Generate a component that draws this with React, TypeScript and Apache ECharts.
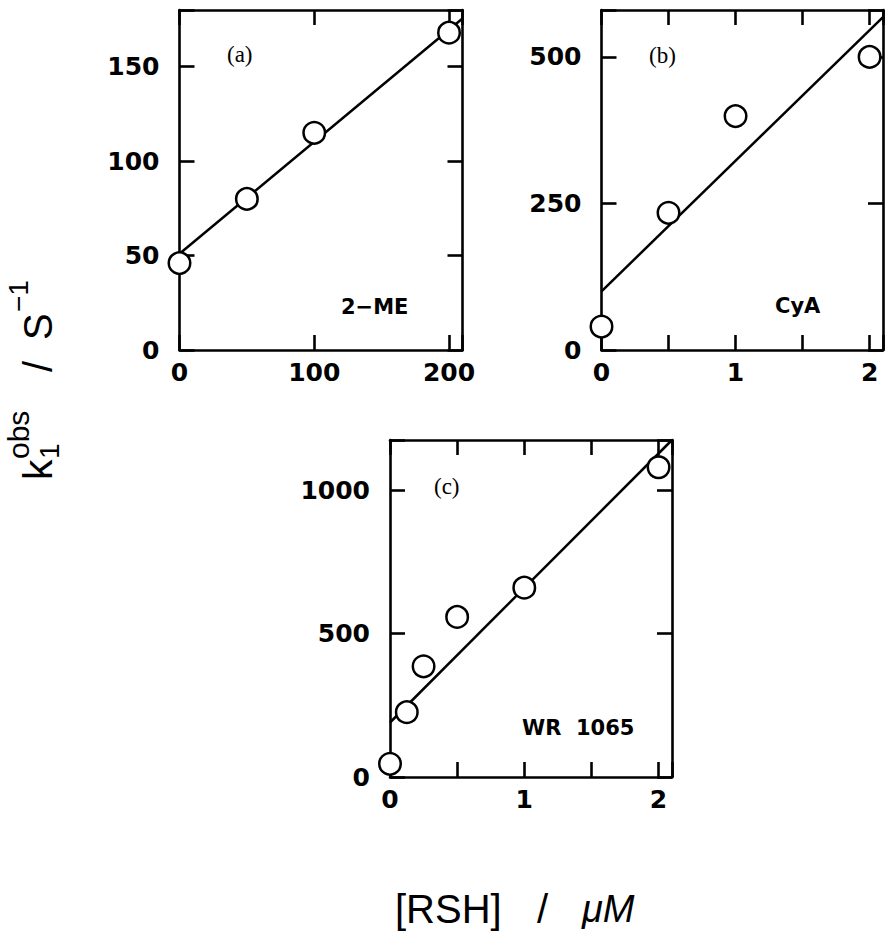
import React, { useEffect, useRef } from "react";
import * as echarts from "echarts";

// ---- data ----
const panelNames = ["(a)", "(b)", "(c)"];
const thiolNames = ["2−ME", "CyA", "WR  1065"];

const aX = [0, 50, 100, 200];
const aY = [46, 80, 115, 168];
const aFitX = [0, 210];
const aFitY = [51, 175.5];

const bX = [0, 0.5, 1, 2];
const bY = [40, 234, 399, 500];
const bFitX = [0, 2.1];
const bFitY = [100, 568];

const cX = [0, 0.125, 0.25, 0.5, 1, 2];
const cY = [46, 226, 386, 558, 660, 1080];
const cFitX = [0, 2.1];
const cFitY = [190, 1175];

const xMax = [210, 2.1, 2.1];
const xInterval = [100, 0.5, 0.5];
const xLabelStep = [100, 1, 1];
const yMax = [180, 580, 1175];
const yInterval = [50, 250, 500];

const pts = [
  { x: aX, y: aY, fx: aFitX, fy: aFitY },
  { x: bX, y: bY, fx: bFitX, fy: bFitY },
  { x: cX, y: cY, fx: cFitX, fy: cFitY },
];

const LABEL_FONT = "DejaVu Sans";

export default function App() {
  const ref = useRef<HTMLDivElement>(null);

  useEffect(() => {
    if (!ref.current) return;
    const chart = echarts.init(ref.current, null, { renderer: "svg" });

    const grids = [
      { left: 179.5, top: 10, width: 283, height: 340 },
      { left: 601.5, top: 10, width: 287, height: 340 },
      { left: 390, top: 440, width: 282, height: 337 },
    ];

    const axisLine = { show: true, onZero: false, lineStyle: { color: "#000", width: 2.6 } };
    const axisTick = { show: true, inside: true, length: 15, lineStyle: { color: "#000", width: 2.6 } };
    const labelStyle = {
      color: "#000",
      fontFamily: LABEL_FONT,
      fontWeight: "bold" as const,
      fontSize: 25,
    };

    const xAxis: any[] = [];
    const yAxis: any[] = [];
    for (let i = 0; i < 3; i++) {
      const step = xLabelStep[i];
      const yStep = yInterval[i];
      const xBase = {
        type: "value",
        gridIndex: i,
        min: 0,
        max: xMax[i],
        interval: xInterval[i],
        axisLine,
        axisTick,
        splitLine: { show: false },
      };
      xAxis.push({
        ...xBase,
        position: "bottom",
        axisLabel: {
          ...labelStyle,
          margin: 10,
          formatter: (v: number) =>
            Math.abs(v / step - Math.round(v / step)) < 1e-6 && v <= xMax[i] - 1e-6 ? String(Math.round(v)) : "",
        },
      });
      xAxis.push({ ...xBase, position: "top", axisLabel: { show: false } });

      const yBase = {
        type: "value",
        gridIndex: i,
        min: 0,
        max: yMax[i],
        interval: yInterval[i],
        axisLine,
        axisTick,
        splitLine: { show: false },
      };
      yAxis.push({
        ...yBase,
        position: "left",
        axisLabel: {
          ...labelStyle,
          margin: 20,
          formatter: (v: number) => (v % yStep === 0 ? String(v) : ""),
        },
      });
      yAxis.push({ ...yBase, position: "right", axisLabel: { show: false } });
    }

    const series: any[] = [];
    pts.forEach((p, i) => {
      series.push({
        type: "line",
        xAxisIndex: i * 2,
        yAxisIndex: i * 2,
        data: p.fx.map((v, k) => [v, p.fy[k]]),
        showSymbol: false,
        symbol: "none",
        lineStyle: { color: "#000", width: 2.5 },
        z: 2,
        silent: true,
      });
      series.push({
        type: "scatter",
        xAxisIndex: i * 2,
        yAxisIndex: i * 2,
        data: p.x.map((v, k) => [v, p.y[k]]),
        symbol: "circle",
        symbolSize: 21.5,
        clip: false,
        itemStyle: { color: "#fff", borderColor: "#000", borderWidth: 2.5, opacity: 1 },
        z: 3,
        silent: true,
      });
    });

    const serif = "'Liberation Serif', 'Times New Roman', serif";
    const sans = "'Liberation Sans', Arial, sans-serif";
    const panelLabelPos = [
      [227, 54],
      [649, 55],
      [434, 486],
    ];
    const thiolPos = [
      [341, 307],
      [775, 306],
      [522, 728],
    ];

    const graphic: any[] = [];
    panelNames.forEach((t, i) => {
      graphic.push({
        type: "text",
        x: panelLabelPos[i][0],
        y: panelLabelPos[i][1],
        style: {
          text: t,
          fontFamily: serif,
          fontSize: 23,
          fill: "#000",
          align: "left",
          verticalAlign: "middle",
        },
      });
    });
    thiolNames.forEach((t, i) => {
      graphic.push({
        type: "text",
        x: thiolPos[i][0],
        y: thiolPos[i][1],
        style: {
          text: t,
          fontFamily: LABEL_FONT,
          fontWeight: "bold",
          fontSize: 21,
          fill: "#000",
          align: "left",
          verticalAlign: "middle",
        },
      });
    });

    // y title: k_1^obs / s^-1  (rotated)
    const mainC = -13;
    const supC = -33;
    const subC = -2;
    const yt = (text: string, lx: number, ly: number, size: number) => ({
      type: "text",
      x: lx,
      y: ly,
      style: {
        text,
        fontFamily: sans,
        fontSize: size,
        fill: "#000",
        align: "left",
        verticalAlign: "middle",
      },
    });
    graphic.push({
      type: "group",
      x: 51,
      y: 480,
      rotation: Math.PI / 2,
      children: [
        yt("k", 0, mainC, 41),
        yt("1", 21, subC, 28),
        yt("obs", 21, supC, 30),
        yt("/", 108, mainC, 40),
        yt("S", 140, mainC, 40),
        yt("−1", 168, supC, 28),
      ],
    });

    // x title
    graphic.push({
      type: "text",
      x: 395,
      y: 909,
      style: { text: "[RSH]", fontFamily: sans, fontSize: 40, fill: "#000", align: "left", verticalAlign: "middle" },
    });
    graphic.push({
      type: "text",
      x: 537,
      y: 909,
      style: { text: "/", fontFamily: sans, fontSize: 40, fill: "#000", align: "left", verticalAlign: "middle" },
    });
    graphic.push({
      type: "text",
      x: 582,
      y: 909,
      style: {
        text: "μM",
        fontFamily: sans,
        fontStyle: "italic",
        fontSize: 38,
        fill: "#000",
        align: "left",
        verticalAlign: "middle",
      },
    });

    chart.setOption({
      animation: false,
      backgroundColor: "#fff",
      grid: grids,
      xAxis,
      yAxis,
      series,
      graphic,
    });

    return () => chart.dispose();
  }, []);

  return (
    <div
      ref={ref}
      style={{ position: "absolute", left: 0, top: 0, width: 886, height: 936 }}
    />
  );
}
